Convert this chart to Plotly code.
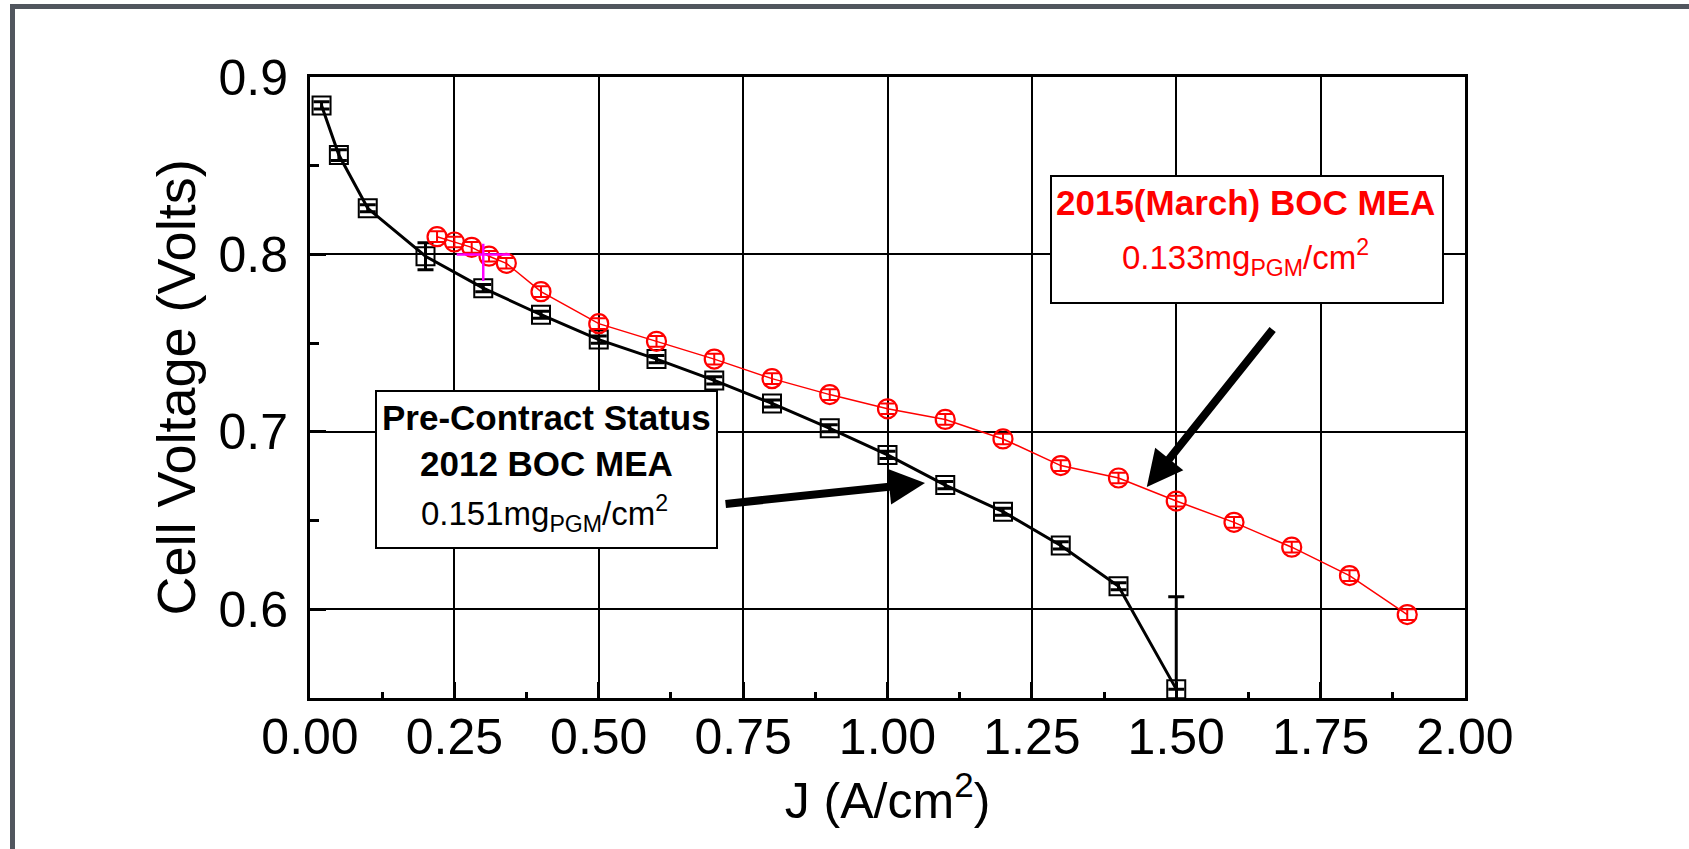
import plotly.graph_objects as go

# ---------------- data ----------------
j_2012 = [0.02, 0.05, 0.10, 0.20, 0.30, 0.40, 0.50, 0.60, 0.70, 0.80, 0.90, 1.00, 1.10, 1.20, 1.30, 1.40, 1.50]
v_2012 = [0.884, 0.856, 0.826, 0.799, 0.781, 0.766, 0.752, 0.741, 0.729, 0.716, 0.702, 0.687, 0.670, 0.655, 0.636, 0.613, 0.555]
err_2012_plus = [0.002, 0.003, 0.002, 0.0076, 0.002, 0.002, 0.002, 0.002, 0.002, 0.002, 0.002, 0.002, 0.002, 0.002, 0.002, 0.002, 0.052]
err_2012_minus = [0.002, 0.003, 0.002, 0.0076, 0.002, 0.002, 0.002, 0.002, 0.002, 0.002, 0.002, 0.002, 0.002, 0.002, 0.002, 0.002, 0.0]

j_2015 = [0.22, 0.25, 0.28, 0.31, 0.34, 0.40, 0.50, 0.60, 0.70, 0.80, 0.90, 1.00, 1.10, 1.20, 1.30, 1.40, 1.50, 1.60, 1.70, 1.80, 1.90]
v_2015 = [0.810, 0.807, 0.804, 0.799, 0.795, 0.779, 0.761, 0.751, 0.741, 0.730, 0.721, 0.713, 0.707, 0.696, 0.681, 0.674, 0.661, 0.649, 0.635, 0.619, 0.597]
err_2015 = [0.003] * len(j_2015)

# magenta error cross near the low-current cluster
j_mag = [0.30]
v_mag = [0.800]
mag_err_x = [0.046]
mag_err_up = [0.006]
mag_err_down = [0.015]

x_ticks = [0.0, 0.25, 0.5, 0.75, 1.0, 1.25, 1.5, 1.75, 2.0]
y_ticks = [0.6, 0.7, 0.8, 0.9]

FONT = "Arial, Liberation Sans, sans-serif"

# ---------------- geometry (pixels) ----------------
W, H = 1689, 849
L, R, T, B = 310, 1465, 77, 698


def xp(px):
    return (px - L) / (R - L)


def yp(py):
    return (B - py) / (B - T)


fig = go.Figure()

fig.add_trace(go.Scatter(
    x=j_2012, y=v_2012, mode="lines+markers", name="2012 BOC MEA",
    line=dict(color="black", width=3),
    marker=dict(symbol="square-open", size=18, color="black", line=dict(width=2, color="black")),
    error_y=dict(type="data", array=err_2012_plus, arrayminus=err_2012_minus,
                 color="black", thickness=3, width=8),
    cliponaxis=False, showlegend=False,
))

fig.add_trace(go.Scatter(
    x=j_2015, y=v_2015, mode="lines+markers", name="2015(March) BOC MEA",
    line=dict(color="#ff0000", width=1.5),
    marker=dict(symbol="circle-open", size=19, color="#ff0000", line=dict(width=2.2, color="#ff0000")),
    error_y=dict(type="data", array=err_2015, color="#ff0000", thickness=2, width=7),
    cliponaxis=False, showlegend=False,
))

fig.add_trace(go.Scatter(
    x=j_mag, y=v_mag, mode="markers",
    marker=dict(size=2, color="#ff00ff", opacity=0.01),
    error_x=dict(type="data", array=mag_err_x, color="#ff00ff", thickness=2.5, width=0),
    error_y=dict(type="data", array=mag_err_up, arrayminus=mag_err_down,
                 color="#ff00ff", thickness=2.5, width=0),
    showlegend=False, hoverinfo="skip",
))

axis_common = dict(
    showline=True, linecolor="black", linewidth=3, mirror=True,
    showgrid=True, gridcolor="black", gridwidth=1.5,
    ticks="inside", ticklen=16, tickwidth=3, tickcolor="black",
    tickfont=dict(family=FONT, size=50, color="black"),
    zeroline=False,
)

fig.update_xaxes(
    **axis_common,
    range=[0, 2], tickvals=x_ticks, tickformat=".2f",
    minor=dict(dtick=0.125, tick0=0, ticks="inside", ticklen=6, tickwidth=3, tickcolor="black", showgrid=False),
    ticklabelstandoff=-7,
    title=dict(text="J (A/cm<sup>2</sup>)", font=dict(family=FONT, size=50, color="black"), standoff=8),
)
fig.update_yaxes(
    **axis_common,
    range=[0.55, 0.9], tickvals=y_ticks, tickformat=".1f",
    minor=dict(dtick=0.05, tick0=0, ticks="inside", ticklen=9, tickwidth=3, tickcolor="black", showgrid=False),
    ticklabelstandoff=9,
    title=dict(text="Cell Voltage (Volts)", font=dict(family=FONT, size=54, color="black"), standoff=6),
)

# outer slide frame: only its left and top edges are inside the picture
frame_path = (f"M {xp(12.5)},{yp(849)} L {xp(12.5)},{yp(6.5)} L {xp(1689)},{yp(6.5)}")

shapes = [
    dict(type="path", xref="paper", yref="paper", path=frame_path,
         line=dict(color="#51565e", width=5), layer="above"),
    # text boxes
    dict(type="rect", xref="paper", yref="paper",
         x0=xp(376), x1=xp(717), y0=yp(548), y1=yp(391),
         line=dict(color="black", width=2), fillcolor="white", layer="above"),
    dict(type="rect", xref="paper", yref="paper",
         x0=xp(1051), x1=xp(1443), y0=yp(303), y1=yp(176),
         line=dict(color="black", width=2), fillcolor="white", layer="above"),
]

annotations = []


def add_text(text, cx, cy, size, color="black", bold=False):
    t = f"<b>{text}</b>" if bold else text
    annotations.append(dict(
        text=t, xref="paper", yref="paper", x=xp(cx), y=yp(cy),
        xanchor="center", yanchor="middle", showarrow=False,
        font=dict(family=FONT, size=size, color=color),
    ))


sub = '<sub>PGM</sub>'
add_text("Pre-Contract Status", 546, 417, 35, bold=True)
add_text("2012 BOC MEA", 546, 463, 35, bold=True)
add_text(f"0.151mg{sub}/cm<sup>2</sup>", 544, 513, 33)
add_text("2015(March) BOC MEA", 1245, 202, 35, color="#ff0000", bold=True)
add_text(f"0.133mg{sub}/cm<sup>2</sup>", 1245, 257, 33, color="#ff0000")

# arrows
annotations.append(dict(
    x=1.065, y=0.6712, ax=0.717, ay=0.6593, xref="x", yref="y", axref="x", ayref="y",
    text="", showarrow=True, arrowhead=2, arrowsize=0.9, arrowwidth=8, arrowcolor="black",
))
annotations.append(dict(
    x=1.449, y=0.6689, ax=1.669, ay=0.7585, xref="x", yref="y", axref="x", ayref="y",
    text="", showarrow=True, arrowhead=2, arrowsize=0.9, arrowwidth=8, arrowcolor="black",
))

fig.update_layout(
    width=W, height=H, autosize=False,
    margin=dict(l=L, r=W - R, t=T, b=H - B, pad=0),
    paper_bgcolor="white", plot_bgcolor="white",
    shapes=shapes, annotations=annotations,
    font=dict(family=FONT, color="black"),
    showlegend=False,
)

fig.write_html("out.html")
